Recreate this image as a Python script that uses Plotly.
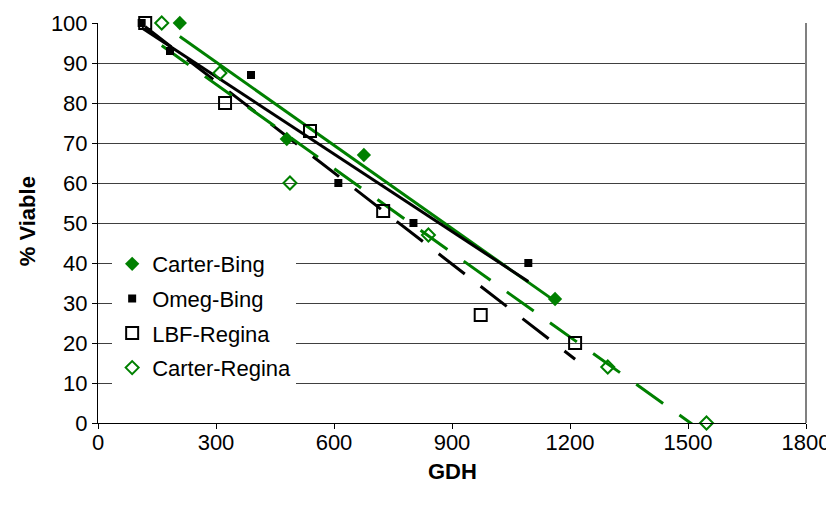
import numpy as np
import plotly.graph_objects as go

# ---- data ----
carter_bing_x = [208, 480, 676, 1162]
carter_bing_y = [100, 71, 67, 31]

omeg_bing_x = [111, 183, 389, 611, 802, 1094]
omeg_bing_y = [100, 93, 87, 60, 50, 40]

lbf_regina_x = [120, 323, 539, 725, 973, 1213]
lbf_regina_y = [100, 80, 73, 53, 27, 20]

carter_regina_x = [162, 310, 488, 840, 1296, 1547]
carter_regina_y = [100, 87.5, 60, 47, 14, 0]

x_ticks = [0, 300, 600, 900, 1200, 1500, 1800]
y_ticks = [0, 10, 20, 30, 40, 50, 60, 70, 80, 90, 100]

GREEN = "#008000"
BLACK = "#000000"
FONT = "Arial, 'Liberation Sans', sans-serif"
FS = 22

series = [
    dict(name="Carter-Bing", x=carter_bing_x, y=carter_bing_y,
         marker=dict(symbol="diamond", size=11, color=GREEN, line=dict(width=0)),
         line=dict(color=GREEN, width=3, dash="solid")),
    dict(name="Omeg-Bing", x=omeg_bing_x, y=omeg_bing_y,
         marker=dict(symbol="square", size=8, color=BLACK, line=dict(width=0)),
         line=dict(color=BLACK, width=3, dash="solid")),
    dict(name="LBF-Regina", x=lbf_regina_x, y=lbf_regina_y,
         marker=dict(symbol="square-open", size=12, color=BLACK, line=dict(width=2, color=BLACK)),
         line=dict(color=BLACK, width=3, dash="33px,20px")),
    dict(name="Carter-Regina", x=carter_regina_x, y=carter_regina_y,
         marker=dict(symbol="diamond-open", size=10, color=GREEN, line=dict(width=2, color=GREEN)),
         line=dict(color=GREEN, width=3, dash="33px,20px")),
]

fig = go.Figure()

# linear trendlines (least squares, drawn across each series' x-range)
for s in series:
    xs = np.array(s["x"], dtype=float)
    ys = np.array(s["y"], dtype=float)
    m, b = np.polyfit(xs, ys, 1)
    tx = np.array([xs.min(), xs.max()])
    fig.add_trace(go.Scatter(x=tx, y=m * tx + b, mode="lines", line=s["line"],
                             showlegend=False, hoverinfo="skip"))

for i, s in enumerate(series):
    fig.add_trace(go.Scatter(x=s["x"], y=s["y"], mode="markers", name=s["name"],
                             marker=s["marker"], cliponaxis=False,
                             legendgroup=f"g{i}"))

# empty helper trace so the tick-mark overlay axis is drawn
fig.add_trace(go.Scatter(x=x_ticks, y=[None] * len(x_ticks), xaxis="x2", yaxis="y",
                         mode="markers", showlegend=False, hoverinfo="skip"))

fig.update_layout(
    width=826, height=498,
    margin=dict(l=90, r=28, t=15, b=83),
    paper_bgcolor="white", plot_bgcolor="white",
    font=dict(family=FONT, size=FS, color="black"),
    showlegend=True,
    legend=dict(x=0.02, y=0.45, xanchor="left", yanchor="top",
                bgcolor="white", borderwidth=0, font=dict(size=FS),
                traceorder="grouped", tracegroupgap=3),
    # main x axis: labels only (no tick marks so labels sit close to the axis)
    xaxis=dict(range=[0, 1800], tickvals=x_ticks, ticktext=[str(v) for v in x_ticks],
               showgrid=False, zeroline=False, showline=True, linecolor="black",
               linewidth=1, ticks="", tickfont=dict(size=FS), automargin=False),
    # overlay x axis: only the outside tick marks
    xaxis2=dict(range=[0, 1800], tickvals=x_ticks, overlaying="x", side="bottom",
                showticklabels=False, showgrid=False, zeroline=False, showline=False,
                ticks="outside", ticklen=5, tickcolor="black", anchor="y",
                automargin=False),
    yaxis=dict(range=[0, 100], tickvals=y_ticks, ticktext=[str(v) for v in y_ticks],
               showgrid=True, gridcolor="#404040", gridwidth=1, zeroline=False,
               showline=True, linecolor="black", linewidth=1, ticks="outside",
               ticklen=5, tickcolor="black", tickfont=dict(size=FS), automargin=False),
    shapes=[dict(type="line", xref="paper", yref="paper", x0=1, x1=1, y0=0, y1=1,
                 line=dict(color="#808080", width=2))],
    annotations=[
        dict(text="<b>GDH</b>", xref="paper", yref="paper", x=0.5, y=-0.12,
             xanchor="center", yanchor="middle", showarrow=False, font=dict(size=FS)),
        dict(text="<b>% Viable</b>", xref="paper", yref="paper", x=-0.1, y=0.505,
             xanchor="center", yanchor="middle", showarrow=False, textangle=-90,
             font=dict(size=FS)),
    ],
)

fig.write_html("out.html")
